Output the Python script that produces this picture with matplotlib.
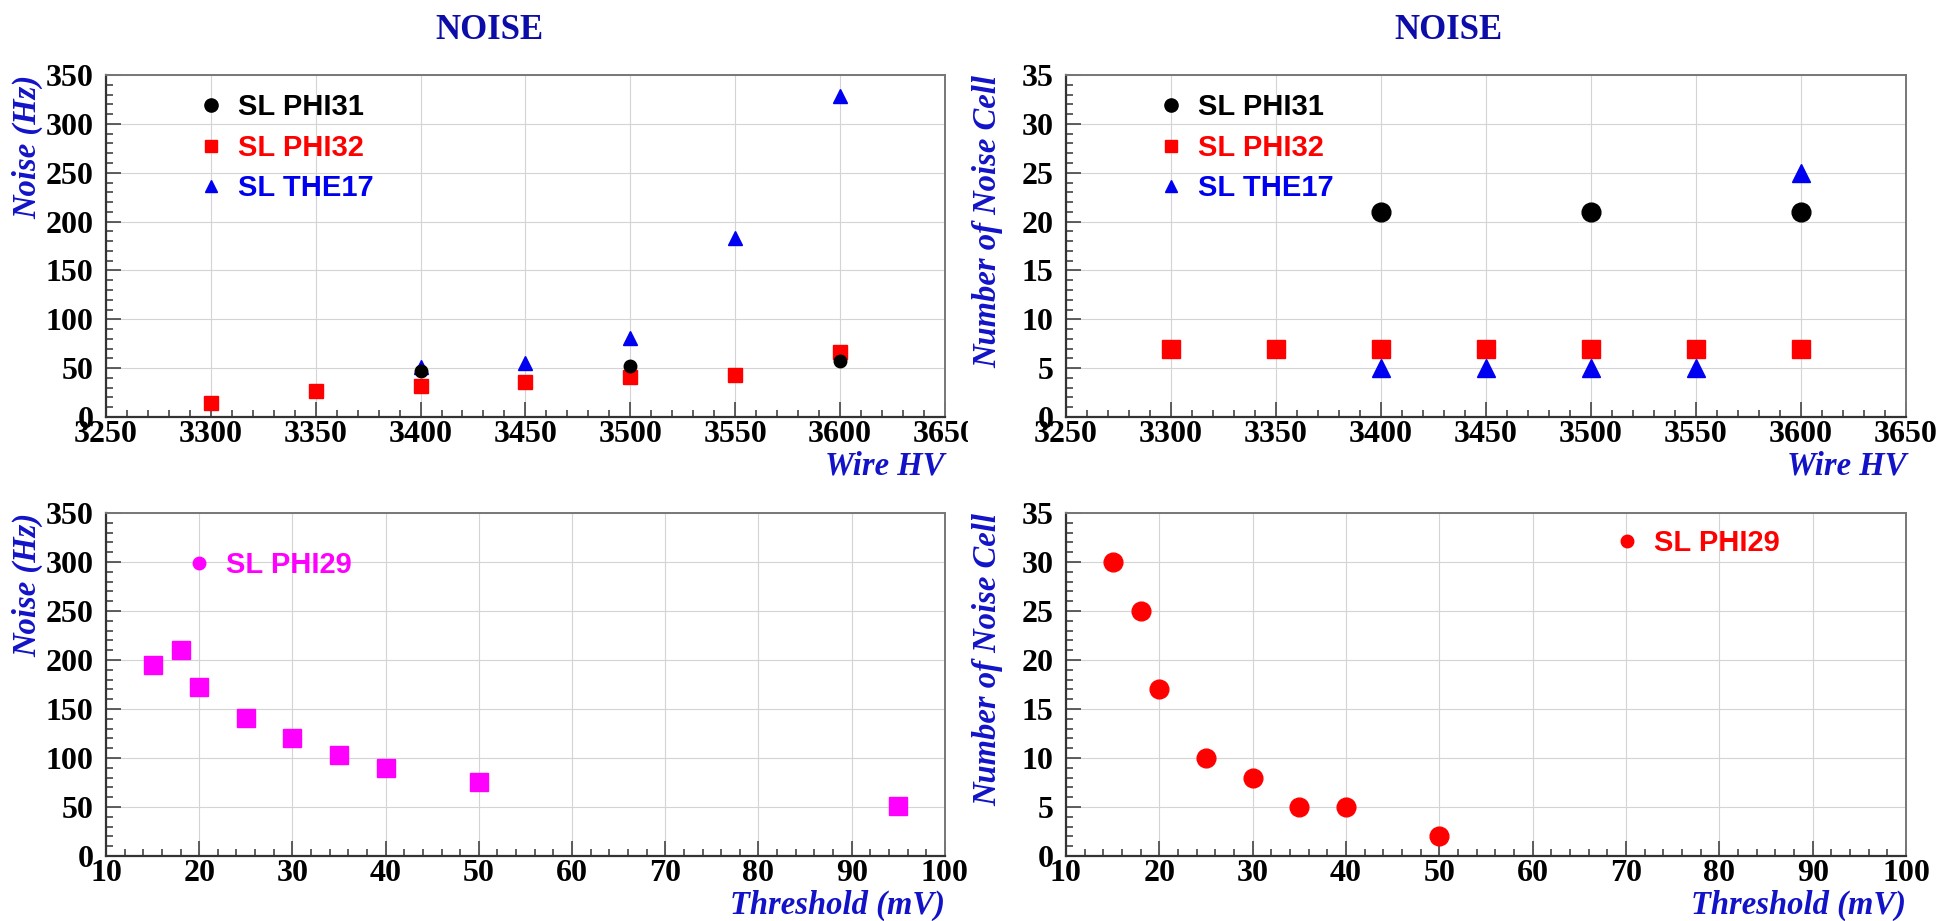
"""Noise scans of the SL chambers: wire HV (top) and threshold (bottom).
"""
import matplotlib
matplotlib.use('Agg')
import matplotlib.pyplot as plt
from matplotlib.lines import Line2D
from matplotlib.transforms import Bbox, TransformedBbox

# wire HV scan, top pads
hv_phi31 = [3400, 3500, 3600]
noise_phi31 = [47, 52, 57]
cells_phi31 = [21, 21, 21]

hv_phi32 = [3300, 3350, 3400, 3450, 3500, 3550, 3600]
noise_phi32 = [14, 27, 32, 36, 41, 43, 67]
cells_phi32 = [7, 7, 7, 7, 7, 7, 7]

hv_the17 = [3400, 3450, 3500, 3550, 3600]
noise_the17 = [51, 55, 81, 183, 329]
cells_the17 = [5, 5, 5, 5, 25]

# threshold scan of SL PHI29, bottom pads
thr_noise = [15, 18, 20, 25, 30, 35, 40, 50, 95]
noise_phi29 = [195, 210, 172, 141, 120, 103, 90, 75, 51]
thr_cells = [15, 18, 20, 25, 30, 35, 40, 50]
cells_phi29 = [30, 25, 17, 10, 8, 5, 5, 2]

hv_ticks = list(range(3250, 3651, 50))
thr_ticks = list(range(10, 101, 10))
noise_ticks = list(range(0, 351, 50))
cell_ticks = list(range(0, 36, 5))

series_names = ['SL PHI31', 'SL PHI32', 'SL THE17']
phi29_name = 'SL PHI29'

title_color = '#0c0ca8'
label_color = '#1212c8'
red = '#ff0000'
blue = '#0000f0'
magenta = '#ff00ff'

serif = 'Liberation Serif'
key_font = {'family': 'Liberation Sans', 'weight': 'bold', 'size': 21}


def style_pad(ax, xticks, yticks, xminor, yminor, xlabel, ylabel, pad_clip):
    """ROOT-like frame, ticks inside, grid on major ticks."""
    ax.set_xlim(xticks[0], xticks[-1])
    ax.set_ylim(yticks[0], yticks[-1])
    ax.set_xticks(xticks)
    ax.set_yticks(yticks)
    ax.xaxis.set_minor_locator(matplotlib.ticker.MultipleLocator(xminor))
    ax.yaxis.set_minor_locator(matplotlib.ticker.MultipleLocator(yminor))
    ax.tick_params(which='both', direction='in', top=False, right=False,
                   color='#444444', width=1.2)
    ax.tick_params(which='major', length=11)
    ax.tick_params(which='minor', length=5)
    ax.tick_params(axis='x', pad=2)
    ax.tick_params(axis='y', pad=9)
    ax.grid(True, which='major', color='#d4d4d4', lw=0.8)
    ax.set_axisbelow(True)
    for side in ['left', 'bottom']:
        ax.spines[side].set_color('#333333')
        ax.spines[side].set_linewidth(1.6)
    for side in ['top', 'right']:
        ax.spines[side].set_color('#777777')
        ax.spines[side].set_linewidth(1.4)
    for lab in ax.get_xticklabels() + ax.get_yticklabels():
        lab.set_fontfamily(serif)
        lab.set_fontweight('bold')
        lab.set_fontsize(23)
        # labels running past the pad edge get cut, as in the original
        lab.set_clip_on(True)
        lab.set_clip_box(pad_clip)

    ax.text(1.0, -0.143, xlabel, transform=ax.transAxes, ha='right',
            va='center', family=serif, style='italic', weight='bold',
            fontsize=23.5, color=label_color)
    ax.text(-0.075, 1.0, ylabel, transform=ax.transAxes, rotation=90,
            rotation_mode='anchor', ha='right', va='bottom', family=serif,
            style='italic', weight='bold', fontsize=23.5, color=label_color)


def add_key(ax, handles, labels, colors, anchor):
    leg = ax.legend(handles, labels, loc='upper left', bbox_to_anchor=anchor,
                    frameon=False, prop=key_font, handlelength=0.8,
                    handletextpad=0.53, labelspacing=0.43, borderpad=0,
                    borderaxespad=0)
    for txt, c in zip(leg.get_texts(), colors):
        txt.set_color(c)
    return leg


def key_marker(marker, color, size):
    return Line2D([], [], ls='', marker=marker, color=color, mec=color,
                  markersize=size)


fig = plt.figure(figsize=(19.37, 9.21), dpi=100)
fig.patch.set_facecolor('white')

left_clip = TransformedBbox(Bbox([[0.0, 0.0], [0.4995, 1.0]]), fig.transFigure)
right_clip = TransformedBbox(Bbox([[0.4995, 0.0], [1.0, 1.0]]), fig.transFigure)

ax_tl = fig.add_axes([0.0547, 0.5472, 0.4331, 0.3713])
ax_tr = fig.add_axes([0.5503, 0.5472, 0.4337, 0.3713])
ax_bl = fig.add_axes([0.0547, 0.0706, 0.4331, 0.3724])
ax_br = fig.add_axes([0.5503, 0.0706, 0.4337, 0.3724])

# top left: noise rate vs HV
ax_tl.plot(hv_phi32, noise_phi32, ls='', marker='s', color=red, ms=10)
ax_tl.plot(hv_the17, noise_the17, ls='', marker='^', color=blue, ms=9.5)
ax_tl.plot(hv_phi31, noise_phi31, ls='', marker='o', color='black', ms=9)
style_pad(ax_tl, hv_ticks, noise_ticks, 10, 10, 'Wire HV', 'Noise (Hz)',
          left_clip)
add_key(ax_tl,
        [key_marker('o', 'black', 9.5), key_marker('s', red, 9),
         key_marker('^', blue, 9)],
        series_names, ['black', red, blue], (0.111, 0.947))

# top right: noisy cells vs HV
ax_tr.plot(hv_phi31, cells_phi31, ls='', marker='o', color='black', ms=13.5)
ax_tr.plot(hv_phi32, cells_phi32, ls='', marker='s', color=red, ms=13.5)
ax_tr.plot(hv_the17, cells_the17, ls='', marker='^', color=blue, ms=13.5)
style_pad(ax_tr, hv_ticks, cell_ticks, 10, 1, 'Wire HV',
          'Number of Noise Cell', right_clip)
add_key(ax_tr,
        [key_marker('o', 'black', 9.5), key_marker('s', red, 9),
         key_marker('^', blue, 9)],
        series_names, ['black', red, blue], (0.111, 0.947))

# bottom left: noise rate vs threshold
ax_bl.plot(thr_noise, noise_phi29, ls='', marker='s', color=magenta, ms=13.5)
style_pad(ax_bl, thr_ticks, noise_ticks, 2, 10, 'Threshold (mV)',
          'Noise (Hz)', left_clip)
add_key(ax_bl, [key_marker('o', magenta, 9)], [phi29_name], [magenta],
        (0.097, 0.890))

# bottom right: noisy cells vs threshold
ax_br.plot(thr_cells, cells_phi29, ls='', marker='o', color=red, ms=13.5)
style_pad(ax_br, thr_ticks, cell_ticks, 2, 1, 'Threshold (mV)',
          'Number of Noise Cell', right_clip)
add_key(ax_br, [key_marker('o', red, 9)], [phi29_name], [red],
        (0.654, 0.952))

for xc in [0.2525, 0.748]:
    fig.text(xc, 0.967, 'NOISE', ha='center', va='center', family=serif,
             weight='bold', fontsize=25, color=title_color)

fig.savefig('out.png', dpi=100, facecolor='white')
plt.close(fig)
